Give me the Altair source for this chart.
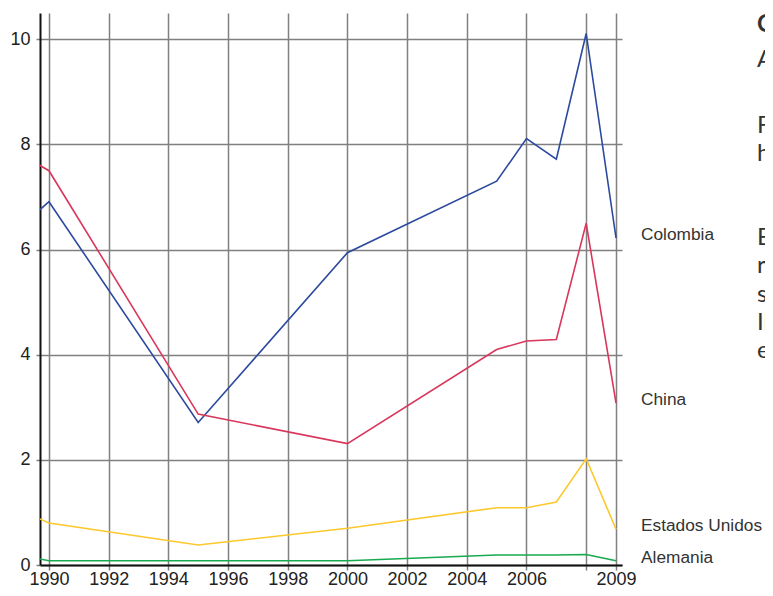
import altair as alt
import pandas as pd

# ---- data ----
years = [1989, 1990, 1995, 2000, 2005, 2006, 2007, 2008, 2009]
colombia = [6.41, 6.91, 2.71, 5.94, 7.30, 8.11, 7.72, 10.11, 6.22]
china = [7.83, 7.50, 2.87, 2.31, 4.10, 4.26, 4.29, 6.50, 3.08]
estados_unidos = [1.05, 0.80, 0.38, 0.70, 1.09, 1.09, 1.20, 2.02, 0.68]
alemania = [0.19, 0.08, 0.08, 0.08, 0.19, 0.19, 0.19, 0.20, 0.08]

series_names = ["Colombia", "China", "Estados Unidos", "Alemania"]
series_values = [colombia, china, estados_unidos, alemania]
series_colors = ["#2b4a9f", "#d9365b", "#fcc82c", "#19a94f"]

x_ticks = [1990, 1992, 1994, 1996, 1998, 2000, 2002, 2004, 2006, 2008, 2009]
y_ticks = [0, 2, 4, 6, 8, 10]

title_line = "Comparación entre países"
subtitle_line = "Años 1990 a 2009"
para1_lines = ["Fuente: elaboración propia con datos", "históricos de cada uno de los países."]
para2_lines = [
    "El índice muestra la evolución del",
    "registro anual en cada país y",
    "su comparación entre 1990 y 2009.",
    "Ilustra las diferencias que existen",
    "entre las economías analizadas.",
]

rows = []
for name, vals in zip(series_names, series_values):
    for yr, v in zip(years, vals):
        rows.append({"year": yr, "value": v, "serie": name})
df = pd.DataFrame(rows)
last_df = pd.DataFrame({"year": [years[-1]] * 4,
                        "value": [v[-1] for v in series_values],
                        "serie": series_names})

FONT = "Liberation Sans"
GRID = "#808080"

x_scale = alt.Scale(domain=[1989.7, 2009.2], nice=False, zero=False)
y_scale = alt.Scale(domain=[0, 10.5], nice=False, zero=False)

x_axis = alt.Axis(values=x_ticks, format="d", title=None,
                  labelExpr="datum.value == 2008 ? '' : datum.label",
                  grid=True, gridColor=GRID, gridWidth=1.5,
                  ticks=True, tickColor=GRID, tickSize=5, tickWidth=1.5,
                  domainColor="#111111", domainWidth=2,
                  labelFont=FONT, labelFontSize=18, labelColor="#222222",
                  labelPadding=0, labelFlush=False, labelOverlap=False)
y_axis = alt.Axis(values=y_ticks, format="d", title=None,
                  grid=True, gridColor=GRID, gridWidth=1.5,
                  ticks=True, tickColor=GRID, tickSize=4, tickWidth=1.5,
                  domainColor="#111111", domainWidth=2,
                  labelFont=FONT, labelFontSize=18, labelColor="#222222",
                  labelPadding=6, labelFlush=False, labelOverlap=False)

lines = alt.Chart(df).mark_line(clip=True, strokeWidth=1.6).encode(
    x=alt.X("year:Q", scale=x_scale, axis=x_axis),
    y=alt.Y("value:Q", scale=y_scale, axis=y_axis),
    color=alt.Color("serie:N", scale=alt.Scale(domain=series_names, range=series_colors), legend=None),
    order=alt.Order("year:Q"),
)

labels = alt.Chart(last_df).mark_text(
    align="left", baseline="middle", dx=25, dy=-3,
    font=FONT, fontSize=17.3, color="#333333"
).encode(
    x=alt.X("year:Q", scale=x_scale),
    y=alt.Y("value:Q", scale=y_scale),
    text="serie:N",
)

TX = 717
def note(text, ypix, bold=False):
    return alt.Chart(pd.DataFrame({"t": [text]})).mark_text(
        align="left", baseline="alphabetic", font="Lato", fontSize=24,
        fontWeight="bold" if bold else "normal", color="#333333"
    ).encode(x=alt.value(TX), y=alt.value(ypix), text="t:N")

notes = [note(title_line, 19, bold=True), note(subtitle_line, 54)]
for i, t in enumerate(para1_lines):
    notes.append(note(t, 120 + 28 * i))
for i, t in enumerate(para2_lines):
    notes.append(note(t, 232 + 28.3 * i))

chart = alt.layer(lines, labels, *notes).properties(
    width=582, height=552,
    autosize=alt.AutoSizeParams(type="none"),
    padding={"left": 32, "top": 5, "right": 143, "bottom": 23},
).configure_view(strokeOpacity=0)

chart.save("out.html", embed_options={"renderer": "svg", "actions": False})
